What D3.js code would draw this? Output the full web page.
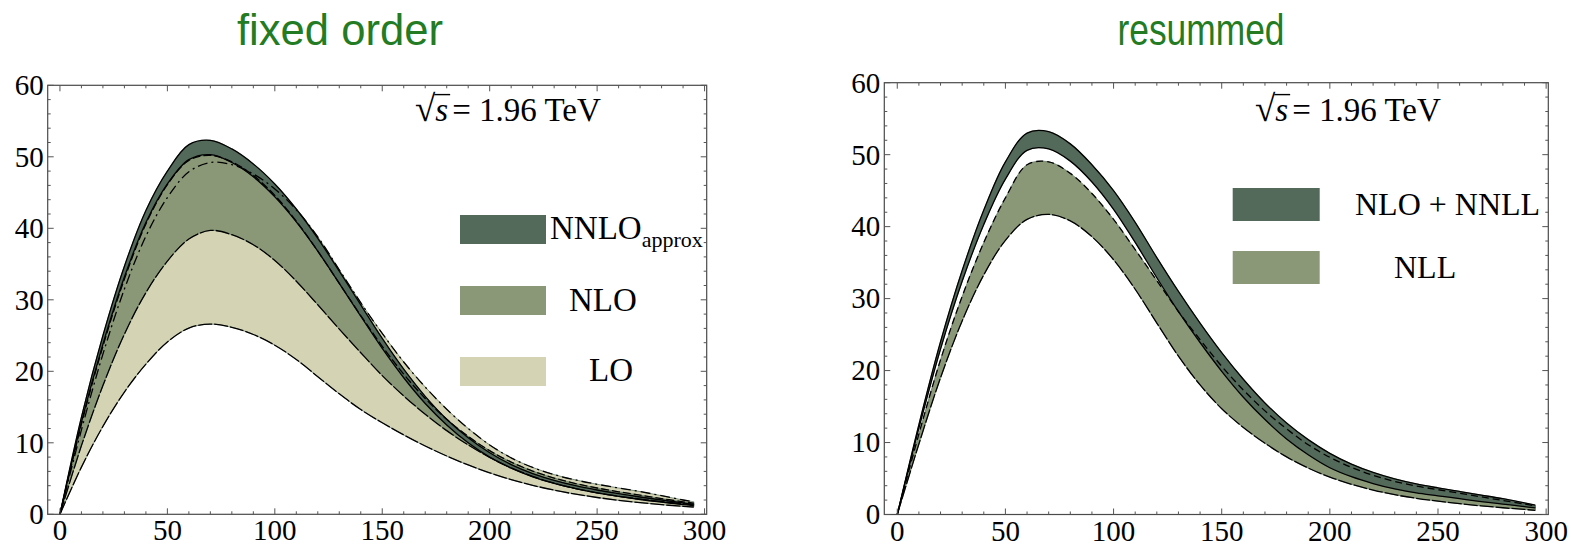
<!DOCTYPE html>
<html>
<head>
<meta charset="utf-8">
<script src="https://d3js.org/d3.v7.min.js"></script>
<style>
  body { margin: 0; background: #fff; }
  svg text { font-family: "Liberation Serif", "Times New Roman", serif; fill: #000; }
  svg text.title { font-family: "Liberation Sans", Arial, sans-serif; fill: #237c23; }
</style>
</head>
<body>
<svg id="chart" width="1571" height="545"></svg>
<script>
// transverse momentum grid (GeV)
var pt = [0, 10, 20, 30, 40, 50, 60, 70, 80, 90, 100, 110, 120, 130, 140, 150, 160, 170, 180, 190, 200, 210, 220, 230, 240, 250, 260, 270, 280, 290, 295];

// fixed order panel
var loLow    = [0, 6.6, 12.3, 17.1, 21.0, 24.1, 26.05, 26.6, 26.15, 25.15, 23.65, 21.65, 19.25, 16.85, 14.65, 12.8, 11.1, 9.55, 8.15, 6.9, 5.8, 4.85, 4.05, 3.38, 2.82, 2.35, 1.96, 1.63, 1.35, 1.12, 1.02];
var loHigh   = [0, 11.8, 22.4, 31.5, 38.9, 44.3, 47.9, 49.2, 48.9, 47.6, 45.5, 42.6, 38.8, 34.2, 29.6, 25.3, 21.3, 17.8, 14.7, 12.0, 9.7, 7.9, 6.55, 5.55, 4.8, 4.2, 3.68, 3.18, 2.6, 2.0, 1.75];
var nloLow   = [0, 9.6, 18.0, 25.2, 31.0, 35.4, 38.5, 39.7, 39.1, 37.7, 35.5, 32.6, 29.3, 25.9, 22.6, 19.4, 16.55, 14.0, 11.7, 9.7, 7.95, 6.5, 5.3, 4.35, 3.6, 3.0, 2.52, 2.12, 1.78, 1.48, 1.33];
var nloHigh  = [0, 12.6, 23.5, 32.9, 40.6, 46.1, 49.5, 50.2, 49.3, 47.4, 44.6, 41.0, 36.8, 32.3, 27.8, 23.5, 19.6, 16.2, 13.3, 10.9, 8.9, 7.3, 6.05, 5.07, 4.3, 3.68, 3.15, 2.68, 2.2, 1.75, 1.55];
var nnloLow  = [0, 12.9, 23.8, 33.2, 40.8, 46.2, 49.6, 50.3, 49.2, 47.2, 44.4, 40.9, 36.8, 32.3, 27.7, 23.2, 19.1, 15.5, 12.5, 10.0, 8.0, 6.45, 5.25, 4.33, 3.6, 3.0, 2.5, 2.07, 1.7, 1.36, 1.2];
var nnloHigh = [0, 13.6, 25.0, 34.7, 42.5, 48.0, 51.7, 52.3, 51.1, 49.0, 46.2, 42.7, 38.6, 34.0, 29.3, 24.6, 20.3, 16.5, 13.3, 10.7, 8.6, 6.95, 5.7, 4.75, 4.0, 3.4, 2.88, 2.42, 2.0, 1.6, 1.42];

// resummed panel
var nllLow   = [0, 9.8, 19.0, 26.9, 33.3, 38.1, 41.0, 41.7, 40.8, 38.6, 35.4, 31.3, 26.6, 22.0, 18.0, 14.7, 12.1, 9.9, 8.0, 6.45, 5.2, 4.2, 3.4, 2.75, 2.25, 1.85, 1.5, 1.2, 0.94, 0.7, 0.58];
var nllHigh  = [0, 11.2, 21.5, 30.3, 37.8, 44.0, 48.6, 49.0, 47.4, 44.6, 41.0, 36.8, 32.5, 28.2, 24.3, 20.6, 17.3, 14.4, 11.9, 9.7, 7.95, 6.55, 5.45, 4.6, 3.95, 3.45, 2.95, 2.45, 1.95, 1.45, 1.2];
var nnllLow  = [0, 12.0, 23.0, 32.4, 40.3, 46.6, 50.6, 50.8, 49.1, 46.2, 42.4, 37.8, 32.9, 28.2, 23.9, 19.9, 16.3, 13.2, 10.5, 8.3, 6.5, 5.25, 4.3, 3.55, 3.0, 2.6, 2.2, 1.8, 1.45, 1.1, 0.92];
var nnllHigh = [0, 12.5, 24.0, 33.9, 42.3, 49.0, 53.0, 53.2, 51.5, 48.6, 45.0, 40.6, 35.7, 31.0, 26.6, 22.5, 18.8, 15.5, 12.7, 10.4, 8.5, 7.0, 5.85, 4.95, 4.25, 3.7, 3.2, 2.7, 2.2, 1.6, 1.3];

var xTicks = [0, 50, 100, 150, 200, 250, 300];
var yTicks = [0, 10, 20, 30, 40, 50, 60];

var colDark = '#53695a', colMid = '#8a9877', colLight = '#d4d4b5';
var serif = '"Liberation Serif", "Times New Roman", serif';

var svg = d3.select('#chart');

function drawPanel(p) {
  var g = svg.append('g');
  var x = d3.scaleLinear().domain(p.xDomain).range([p.left, p.right]);
  var y = d3.scaleLinear().domain([0, 60]).range([p.bottom, p.top]);
  var curve = d3.curveCatmullRom.alpha(0.5);

  var area = d3.area()
    .x(function(d, i) { return x(pt[i]); })
    .y0(function(d) { return y(d[0]); })
    .y1(function(d) { return y(d[1]); })
    .curve(curve);
  var line = d3.line()
    .x(function(d, i) { return x(pt[i]); })
    .y(function(d) { return y(d); })
    .curve(curve);

  p.bands.forEach(function(b) {
    var rows = pt.map(function(v, i) { return [b.lo[i], b.hi[i]]; });
    g.append('path').datum(rows)
      .attr('d', area)
      .attr('fill', b.fill)
      .attr('stroke', '#5f7a62')
      .attr('stroke-width', 0.8);
  });
  p.lines.forEach(function(l) {
    g.append('path').datum(l.v)
      .attr('d', line)
      .attr('fill', 'none')
      .attr('stroke', '#000')
      .attr('stroke-width', 1.3)
      .attr('stroke-dasharray', l.dash || null);
  });

  // frame
  g.append('rect')
    .attr('x', p.left).attr('y', p.top)
    .attr('width', p.right - p.left).attr('height', p.bottom - p.top)
    .attr('fill', 'none').attr('stroke', '#4a4a4a').attr('stroke-width', 1.2);

  // ticks on all four sides, pointing in
  var tk = g.append('g').attr('stroke', '#555').attr('stroke-width', 1);
  d3.range(0, 301, 10).forEach(function(v) {
    var len = v % 50 === 0 ? 6 : 3;
    tk.append('line').attr('x1', x(v)).attr('x2', x(v)).attr('y1', p.bottom).attr('y2', p.bottom - len);
    tk.append('line').attr('x1', x(v)).attr('x2', x(v)).attr('y1', p.top).attr('y2', p.top + len);
  });
  d3.range(0, 61, 2).forEach(function(v) {
    var len = v % 10 === 0 ? 6 : 3;
    tk.append('line').attr('y1', y(v)).attr('y2', y(v)).attr('x1', p.left).attr('x2', p.left + len);
    tk.append('line').attr('y1', y(v)).attr('y2', y(v)).attr('x1', p.right).attr('x2', p.right - len);
  });

  g.selectAll('.xl').data(xTicks).enter().append('text')
    .attr('x', function(d) { return x(d); })
    .attr('y', p.bottom + 26)
    .attr('text-anchor', 'middle')
    .style('font-family', serif)
    .style('font-size', '29px')
    .text(function(d) { return d; });
  g.selectAll('.yl').data(yTicks).enter().append('text')
    .attr('x', p.left - 4)
    .attr('y', function(d) { return y(d); })
    .attr('dy', '0.34em')
    .attr('text-anchor', 'end')
    .style('font-family', serif)
    .style('font-size', '29px')
    .text(function(d) { return d; });

  g.append('text').attr('class', 'title')
    .attr('x', p.titleX).attr('y', 45)
    .attr('text-anchor', 'middle')
    .attr('textLength', p.titleW)
    .attr('lengthAdjust', 'spacingAndGlyphs')
    .style('font-size', '44px')
    .text(p.title);

  // sqrt(s) label
  var sx = p.sqrtX, sy = 121, fs = 33;
  var t1 = g.append('text').attr('x', sx).attr('y', sy).style('font-size', (fs + 4) + 'px').text('\u221A');
  var w1 = t1.node().getComputedTextLength();
  var t2 = g.append('text').attr('x', sx + w1).attr('y', sy).style('font-size', fs + 'px').style('font-style', 'italic').text('s');
  var w2 = t2.node().getComputedTextLength();
  g.append('line')
    .attr('x1', sx + w1 - 1).attr('x2', sx + w1 + w2 + 2)
    .attr('y1', sy - fs * 0.8).attr('y2', sy - fs * 0.8)
    .attr('stroke', '#000').attr('stroke-width', 1.4);
  g.append('text').attr('x', sx + w1 + w2 + 4).attr('y', sy).style('font-size', fs + 'px').text('= 1.96 TeV');

  // legend
  p.legend.forEach(function(it) {
    g.append('rect').attr('x', it.rx).attr('y', it.ry).attr('width', it.rw).attr('height', it.rh).attr('fill', it.fill);
    var t = g.append('text').attr('x', it.tx).attr('y', it.ty).style('font-size', it.fs + 'px').text(it.label);
    if (it.sub) {
      t.append('tspan').attr('dy', 8).style('font-size', '22px').text(it.sub);
    }
  });
}

drawPanel({
  left: 47.7, right: 706.7, top: 85.3, bottom: 514.3,
  xDomain: [-5.7, 301],
  title: 'fixed order', titleX: 340, titleW: 206,
  sqrtX: 415,
  bands: [
    { lo: loLow, hi: loHigh, fill: colLight },
    { lo: nloLow, hi: nloHigh, fill: colMid },
    { lo: nnloLow, hi: nnloHigh, fill: colDark }
  ],
  lines: [
    { v: loLow, dash: '14,2' },
    { v: loHigh, dash: '10,4,2,4' },
    { v: nloLow, dash: '14,2' },
    { v: nloHigh, dash: '8,3' },
    { v: nnloLow },
    { v: nnloHigh }
  ],
  legend: [
    { rx: 460, ry: 215, rw: 86, rh: 29, fill: colDark, tx: 550, ty: 239, fs: 33, label: 'NNLO', sub: 'approx' },
    { rx: 460, ry: 286, rw: 86, rh: 29, fill: colMid, tx: 569, ty: 311, fs: 33, label: 'NLO' },
    { rx: 460, ry: 357, rw: 86, rh: 29, fill: colLight, tx: 589, ty: 381, fs: 33, label: 'LO' }
  ]
});

drawPanel({
  left: 884.3, right: 1548.3, top: 82.7, bottom: 514.5,
  xDomain: [-6, 301],
  title: 'resummed', titleX: 1201, titleW: 167,
  sqrtX: 1255,
  bands: [
    { lo: nllLow, hi: nllHigh, fill: colMid },
    { lo: nnllLow, hi: nnllHigh, fill: colDark }
  ],
  lines: [
    { v: nllLow, dash: '14,2' },
    { v: nllHigh, dash: '7,4' },
    { v: nnllLow },
    { v: nnllHigh }
  ],
  legend: [
    { rx: 1232.7, ry: 188, rw: 87, rh: 33, fill: colDark, tx: 1355, ty: 215, fs: 32, label: 'NLO + NNLL' },
    { rx: 1232.7, ry: 251, rw: 87, rh: 33, fill: colMid, tx: 1394, ty: 278, fs: 32, label: 'NLL' }
  ]
});
</script>
</body>
</html>
